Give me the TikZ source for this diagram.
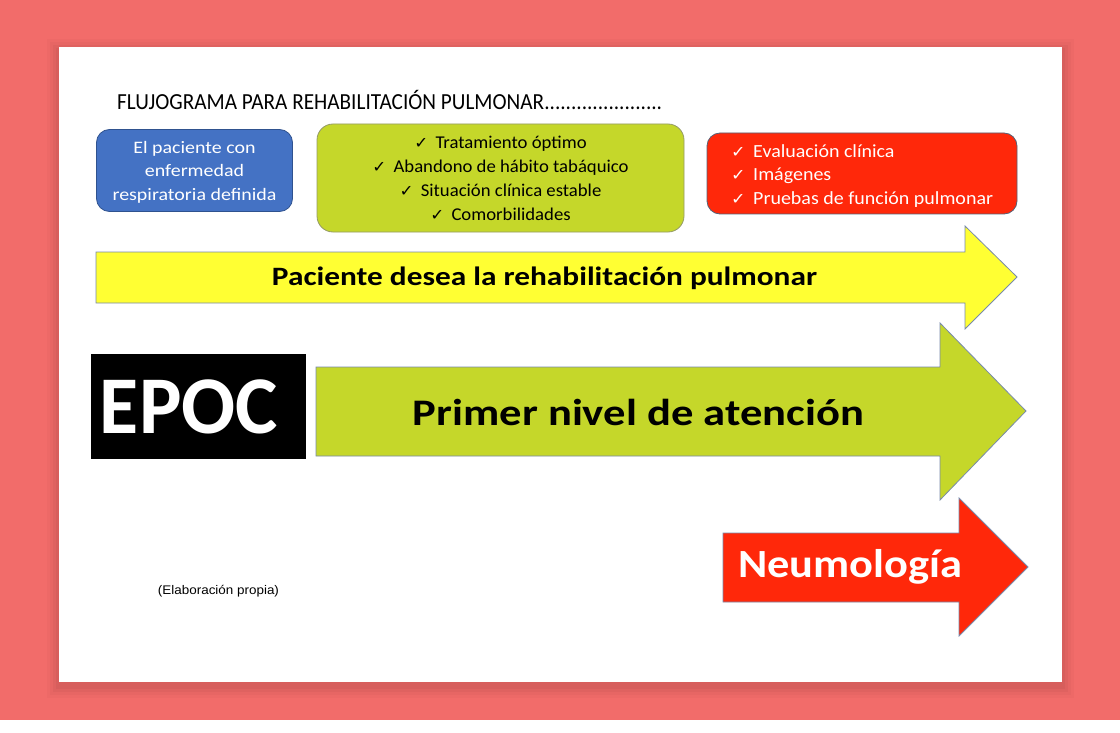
\documentclass[tikz,border=0pt]{standalone}
\usepackage{fontspec}
\setmainfont{Carlito}
\newfontfamily\arialf{Liberation Sans}
\newfontfamily\dejavu{DejaVu Sans}
\usepackage{graphicx}
\definecolor{salmonbg}{RGB}{242,108,106}
\definecolor{boxblue}{RGB}{68,114,196}
\definecolor{boxblueline}{RGB}{47,82,143}
\definecolor{lime}{RGB}{197,215,42}
\definecolor{redbox}{RGB}{255,40,10}
\definecolor{yellowarrow}{RGB}{255,255,51}
\definecolor{edgegray}{RGB}{120,138,170}
\newcommand{\ck}{{\dejavu\fontsize{16}{16}\selectfont ✓}}
\newcommand{\fitw}[2]{\resizebox{#1}{\height}{#2}}
\begin{document}
\begin{tikzpicture}[x=1pt,y=-1pt,
  roundbox/.style={rounded corners=13pt, draw=edgegray, line width=0.8pt, inner sep=0pt},
  shapeline/.style={draw=edgegray, line width=0.8pt, line join=miter},
  lbl/.style={inner sep=0pt}
]
\fill[salmonbg] (0,0) rectangle (1120,720);
\fill[white] (0,720) rectangle (1120,733);
\useasboundingbox (0,0) rectangle (1120,733);
% soft shadow of the panel
\foreach \d/\o in {12/0.02,9/0.025,6/0.03,3/0.035}{
  \fill[black, opacity=\o] (59-\d,47-\d+4) rectangle (1062+\d,682+\d+4);
}
\fill[white] (59,47) rectangle (1062,682);

% title
\node[anchor=west, inner sep=0pt] (title) at (117,99.5)
  {\fitw{545pt}{\fontsize{23}{26}\selectfont FLUJOGRAMA PARA REHABILITACIÓN PULMONAR......................}};

% top boxes
\node[roundbox, fill=boxblue, draw=boxblueline, minimum width=196pt, minimum height=82pt] (blue) at (194.5,170.5) {};
\node[lbl, text=white] (bluetext) at (194.5,172)
  {\scalebox{1.14}[1]{\fontsize{17.5}{23.5}\selectfont\begin{tabular}{@{}c@{}}El paciente con\\enfermedad\\respiratoria definida\end{tabular}}};

\node[roundbox, rounded corners=16pt, fill=lime, draw=gray!70!lime, minimum width=367pt, minimum height=108pt] (green) at (500.5,178) {};
\node[lbl] (greentext) at (500.5,180)
  {\scalebox{1.04}[1]{\fontsize{18}{24}\selectfont\begin{tabular}{@{}c@{}}\ck\hspace{7pt}Tratamiento óptimo\\\ck\hspace{7pt}Abandono de hábito tabáquico\\\ck\hspace{7pt}Situación clínica estable\\\ck\hspace{7pt}Comorbilidades\end{tabular}}};

\node[roundbox, fill=redbox, draw=edgegray!70!black, minimum width=310pt, minimum height=81pt] (red) at (862,173.5) {};
\node[lbl, text=white, anchor=west] (redtext) at (731,176)
  {\scalebox{1.08}[1]{\fontsize{18.5}{23.5}\selectfont\begin{tabular}{@{}l@{}}\ck\hspace{7pt}Evaluación clínica\\\ck\hspace{7pt}Imágenes\\\ck\hspace{7pt}Pruebas de función pulmonar\end{tabular}}};

% green arrow
\filldraw[shapeline, fill=lime] (316,367) -- (940,367) -- (940,323) -- (1026,411) -- (940,500) -- (940,456) -- (316,456) -- cycle;
\node[lbl] (primer) at (638.5,412) {\fitw{451pt}{\bfseries\fontsize{37.5}{40}\selectfont Primer nivel de atención}};

% yellow arrow
\filldraw[shapeline, fill=yellowarrow] (96,252) -- (965,252) -- (965,226) -- (1017,277) -- (965,329) -- (965,303) -- (96,303) -- cycle;
\node[lbl] (paciente) at (544.5,278) {\fitw{545pt}{\bfseries\fontsize{26.5}{30}\selectfont Paciente desea la rehabilitación pulmonar}};

% EPOC
\node[fill=black, minimum width=215pt, minimum height=105pt, inner sep=0pt] (epocbox) at (198.5,406.5) {};
\node[lbl, text=white] (epoc) at (189,407) {\fitw{178pt}{\bfseries\fontsize{82}{82}\selectfont EPOC}};

% red arrow
\filldraw[shapeline, fill=redbox] (723,533) -- (959,533) -- (959,498) -- (1028,567) -- (959,636) -- (959,602) -- (723,602) -- cycle;
\node[lbl, text=white] (neumo) at (850,567) {\fitw{224pt}{\bfseries\fontsize{40}{42}\selectfont Neumología}};

% source note
\node[lbl] (note) at (218.5,591) {\fitw{121pt}{\arialf\fontsize{12.5}{14}\selectfont (Elaboración propia)}};
\end{tikzpicture}
\end{document}
